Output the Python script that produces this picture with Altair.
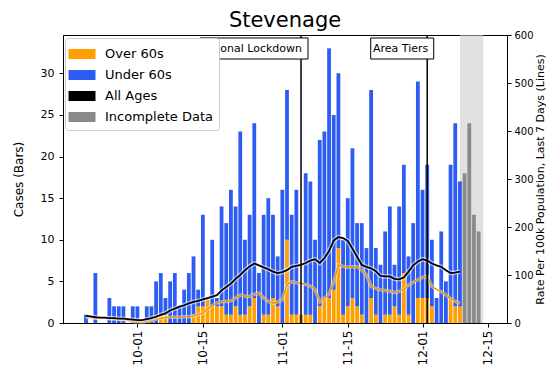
import altair as alt
import pandas as pd

# ---- data ----
bar_dates = list(pd.date_range("2020-09-20", "2020-12-09", freq="D").strftime("%Y-%m-%d"))
over60_cases = (
    [0, 0, 0, 0, 0, 0, 0, 0, 0, 0, 0]
    + [0, 0, 0, 0, 0, 1, 1, 0, 0, 0]
    + [0, 0, 1, 2, 2, 3, 2, 2, 2, 1]
    + [1, 2, 1, 1, 2, 3, 0, 1, 1, 3, 2]
    + [0, 10, 1, 1, 1, 1, 1, 0, 2, 3]
    + [3, 4, 9, 1, 2, 3, 2, 1, 0, 3]
    + [1, 0, 1, 1, 2, 1, 6, 1, 0, 3]
    + [3, 3, 2, 0, 0, 0, 3, 2, 2]
)
under60_cases = (
    [1, 0, 6, 0, 0, 3, 2, 2, 2, 0, 2]
    + [2, 0, 2, 2, 5, 5, 2, 5, 6, 2]
    + [4, 6, 7, 2, 11, 0, 8, 1, 12, 11]
    + [15, 12, 22, 9, 11, 21, 6, 12, 14, 10, 6]
    + [16, 18, 12, 15, 0, 17, 16, 10, 20, 20]
    + [30, 21, 21, 9, 13, 18, 10, 11, 9, 25]
    + [8, 7, 10, 13, 5, 13, 13, 7, 12, 26]
    + [13, 16, 8, 3, 11, 5, 16, 22, 15]
)
incomplete_dates = ["2020-12-10", "2020-12-11", "2020-12-12", "2020-12-13"]
incomplete_cases = [18, 24, 13, 11]

rate_all_ages = (
    [15, 14, 12, 11, 11, 10, 10, 9, 9, 8, 7]
    + [6, 6, 8, 10, 13, 17, 20, 26, 30, 34]
    + [37, 41, 44, 46, 49, 52, 55, 58, 68, 75]
    + [82, 92, 100, 110, 118, 124, 120, 116, 112, 107, 104]
    + [106, 110, 117, 119, 121, 125, 130, 133, 125, 135]
    + [150, 172, 179, 177, 171, 155, 138, 121, 117, 114]
    + [108, 98, 97, 97, 92, 91, 95, 107, 120, 128]
    + [133, 130, 124, 120, 117, 110, 104, 105, 107]
)
rate_over60 = (
    [12, 11, 10, 10, 10, 10, 9, 8, 7, 5, 3]
    + [2, 2, 3, 5, 8, 10, 11, 12, 12, 12]
    + [13, 13, 15, 18, 21, 30, 36, 42, 44, 45]
    + [46, 52, 58, 56, 55, 60, 62, 52, 45, 41, 44]
    + [48, 80, 86, 84, 83, 80, 77, 70, 44, 52]
    + [60, 86, 121, 118, 116, 117, 117, 110, 100, 76]
    + [72, 69, 68, 66, 63, 66, 69, 79, 85, 90]
    + [95, 97, 76, 70, 65, 58, 51, 45, 41]
)

event_names = ["National Lockdown", "Area Tiers"]
event_dates = ["2020-11-05", "2020-12-02"]
shade_start = ["2020-12-09"]
shade_end = ["2020-12-14"]

tick_dates = ["2020-10-01", "2020-10-15", "2020-11-01", "2020-11-15", "2020-12-01", "2020-12-15"]
left_ticks = [0, 5, 10, 15, 20, 25, 30]
right_ticks = [0, 100, 200, 300, 400, 500, 600]

legend_labels = ["Over 60s", "Under 60s", "All Ages", "Incomplete Data"]
legend_colors = ["#FF9F00", "#2D5CF2", "#000000", "#8A8A8A"]
ORANGE_LINE = "#E59A12"

# ---- tables ----
rows = []
for d, o, u in zip(bar_dates, over60_cases, under60_cases):
    rows.append({"date": d, "series": "Over 60s", "lo": 0, "hi": o})
    rows.append({"date": d, "series": "Under 60s", "lo": o, "hi": o + u})
for d, v in zip(incomplete_dates, incomplete_cases):
    rows.append({"date": d, "series": "Incomplete Data", "lo": 0, "hi": v})
bars_df = pd.DataFrame(rows)

lines_df = pd.DataFrame({"date": bar_dates, "all": rate_all_ages, "over": rate_over60})
events_df = pd.DataFrame({"name": event_names, "date": event_dates})
shade_df = pd.DataFrame({"start": shade_start, "end": shade_end})


def dt(s, h=0, m=0):
    y, mo, da = (int(p) for p in s.split("-"))
    return alt.DateTime(year=y, month=mo, date=da, hours=h, minutes=m, utc=True)


x_scale = alt.Scale(type="utc", domain=[dt("2020-09-16", 3, 30), dt("2020-12-18")])
x_axis = alt.Axis(values=[dt(t) for t in tick_dates], labelExpr="utcFormat(datum.value, '%m-%d')",
                  labelAngle=270, labelFontSize=12, title=None, grid=False, tickSize=4, labelPadding=3)
X = alt.X("date:T", scale=x_scale, axis=x_axis)

left_scale = alt.Scale(domain=[0, 34.6], nice=False)
right_scale = alt.Scale(domain=[0, 600], nice=False)
right_axis = alt.Axis(orient="right", values=right_ticks, title="Rate Per 100k Population, Last 7 Days (Lines)",
                      titleAngle=270, titleBaseline="top", titlePadding=1, titleFontSize=11,
                      labelFontSize=10, labelPadding=3, tickSize=4, grid=False)

path_legend = "M-1.35,-0.5H1.35V0.5H-1.35Z"

shade = alt.Chart(shade_df).mark_rect(color="#c8c8c8", opacity=0.55).encode(
    x=alt.X("start:T", scale=x_scale, axis=x_axis), x2="end:T",
    y=alt.value(0), y2=alt.value(288),
)

bars = alt.Chart(bars_df).mark_bar(size=3.8, opacity=1).encode(
    x=X,
    y=alt.Y("lo:Q", scale=left_scale,
            axis=alt.Axis(values=left_ticks, title="Cases (Bars)", titlePadding=15, titleFontSize=12,
                          labelFontSize=11, labelPadding=5, tickSize=4, grid=False)),
    y2="hi:Q",
    color=alt.Color("series:N", scale=alt.Scale(domain=legend_labels, range=legend_colors),
                    legend=alt.Legend(title=None, orient="none", legendX=2, legendY=3, zindex=5,
                                      symbolType=path_legend, symbolSize=400, symbolStrokeWidth=0,
                                      symbolOpacity=1, symbolOffset=1, labelOffset=13,
                                      labelFontSize=13, labelFont="DejaVu Sans", labelColor="black",
                                      fillColor="#ffffff", strokeColor="#cccccc",
                                      cornerRadius=3, padding=6, rowPadding=4)),
)

left_layer = alt.layer(shade, bars)

Yall = alt.Y("all:Q", scale=right_scale, axis=right_axis)
Yover = alt.Y("over:Q", scale=right_scale, axis=right_axis)
base_l = alt.Chart(lines_df)
halo_o = base_l.mark_line(color="white", strokeWidth=3.5, opacity=0.45).encode(x=X, y=Yover)
line_o = base_l.mark_line(color=ORANGE_LINE, strokeWidth=1.6).encode(x=X, y=Yover)
halo_a = base_l.mark_line(color="white", strokeWidth=4.5, opacity=0.55).encode(x=X, y=Yall)
line_a = base_l.mark_line(color="black", strokeWidth=1.8).encode(x=X, y=Yall)
right_layer = alt.layer(halo_o, line_o, halo_a, line_a)

rules = alt.Chart(events_df).mark_rule(color="black", strokeWidth=1.5).encode(x=X)

box_specs = {
    "National Lockdown": ("M-1,-0.195H1V0.195H-1Z", 108 * 108, -47),
    "Area Tiers": ("M-1,-0.333H1V0.333H-1Z", 63 * 63, -25),
}
annots = []
for name, (shape, size, off) in box_specs.items():
    sub = events_df[events_df["name"] == name]
    annots.append(
        alt.Chart(sub).mark_point(shape=shape, size=size, fill="white", fillOpacity=1,
                                  stroke="black", strokeWidth=1, opacity=1, xOffset=off)
        .encode(x=X, y=alt.value(13.5))
    )
texts = alt.Chart(events_df).mark_text(align="right", baseline="middle", dx=1, fontSize=11,
                                       font="DejaVu Sans", color="black").encode(
    x=X, y=alt.value(13.5), text="name:N")

chart = alt.layer(left_layer, right_layer, rules, *annots, texts).resolve_scale(
    y="independent"
).properties(
    width=444, height=288,
    title=alt.TitleParams("Stevenage", fontSize=21, font="DejaVu Sans", fontWeight="normal",
                          color="black", frame="group", offset=4, dy=5),
    padding={"left": 55, "top": 27, "right": 39, "bottom": 44},
    autosize=alt.AutoSizeParams(type="none"),
    background="white",
).configure_view(stroke="black", strokeWidth=1).configure_axis(
    domainColor="black", tickColor="black", labelColor="black", titleColor="black",
    labelFont="DejaVu Sans", titleFont="DejaVu Sans", titleFontWeight="normal",
)

chart.save("out.html", embed_options={"renderer": "svg", "actions": False})
